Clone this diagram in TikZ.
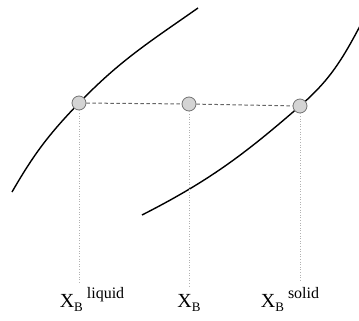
\documentclass[tikz,border=0pt]{standalone}
\usepackage{fontspec}
\setmainfont{Liberation Serif}
\usepackage{tikz}
\usetikzlibrary{positioning,calc}
\newcommand{\xb}{X\raisebox{-4.5pt}{\fontsize{13}{13}\selectfont B}}
\newcommand{\xbsup}[1]{\xb\hspace{4pt}\raisebox{8.5pt}{\fontsize{16}{16}\selectfont #1}}
\tikzset{
  curve/.style={draw, line width=1.4pt, black},
  dot/.style={circle, draw=black!55, fill=black!17, line width=0.8pt, minimum size=14pt, inner sep=0pt},
  tie/.style={draw=black!60, line width=1pt, dash pattern=on 3.5pt off 2.5pt},
  drop/.style={draw=black!30, line width=0.6pt, dotted},
  lbl/.style={font=\fontsize{20}{22}\selectfont, inner sep=1pt, anchor=base}
}
\begin{document}
\begin{tikzpicture}[x=1pt, y=1pt]
\useasboundingbox (0,0) rectangle (359,-321);
\coordinate (pL) at (79,-103);
\coordinate (pM) at (189,-104);
\coordinate (pS) at (300,-106);
\coordinate (liqA) at (12,-192);
\coordinate (liqB) at (198,-8);
\coordinate (solA) at (142,-215);
\coordinate (solB) at (360,-26);
\draw[curve] (liqA) to[out=60, in=-134] (pL) to[out=46, in=-145] (liqB);
\draw[curve] (solA) to[out=27, in=-139] (pS) to[out=41, in=-118] (solB);
\node[dot] (liq) at (pL) {};
\node[dot] (mid) at (pM) {};
\node[dot] (sol) at (pS) {};
\draw[tie] (liq) -- (mid) -- (sol);
\node[lbl] (lblL) at (92,-307) {\xbsup{liquid}};
\node[lbl] (lblM) at (189,-307) {\xb};
\node[lbl] (lblS) at (290,-307) {\xbsup{solid}};
\draw[drop] (liq) -- ($(liq |- lblL.north)+(0,4)$);
\draw[drop] (mid) -- ($(mid |- lblM.north)+(0,6)$);
\draw[drop] (sol) -- ($(sol |- lblS.north)+(0,4)$);
\end{tikzpicture}
\end{document}
